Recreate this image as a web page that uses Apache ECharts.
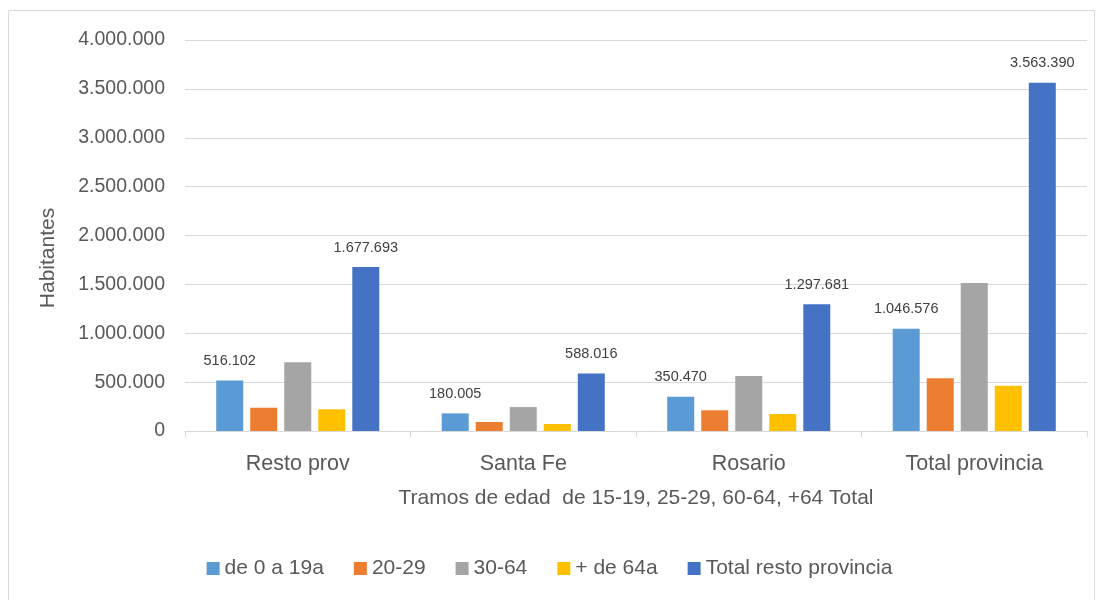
<!DOCTYPE html>
<html>
<head>
<meta charset="utf-8">
<script src="https://cdn.jsdelivr.net/npm/echarts@6/dist/echarts.min.js"></script>
<style>
  html, body { margin: 0; padding: 0; background: #fff; }
  #chart { width: 1099px; height: 600px; }
</style>
</head>
<body>
<div id="chart"></div>
<script>
const categories = ['Resto prov', 'Santa Fe', 'Rosario', 'Total provincia'];
const seriesNames = ['de 0 a 19a', '20-29', '30-64', '+ de 64a', 'Total resto provincia'];
const colors = ['#5b9bd5', '#ed7d31', '#a5a5a5', '#ffc000', '#4472c4'];

const de0a19 = [516102, 180005, 350470, 1046576];
const de20a29 = [238000, 92000, 212000, 540000];
const de30a64 = [703000, 245000, 563000, 1515000];
const mas64 = [222000, 72000, 174000, 462000];
const totalResto = [1677693, 588016, 1297681, 3563390];

const values = [de0a19, de20a29, de30a64, mas64, totalResto];
const labelled = [true, false, false, false, true];

const fmt = v => String(v).replace(/\B(?=(\d{3})+(?!\d))/g, '.');
const font = 'Liberation Sans';

const chart = echarts.init(document.getElementById('chart'));

const option = {
  animation: false,
  textStyle: { fontFamily: font },
  grid: { left: 185, right: 12, top: 40, bottom: 169 },
  legend: {
    data: seriesNames,
    top: 553,
    left: 'center',
    itemWidth: 13,
    itemHeight: 13,
    itemGap: 30,
    icon: 'rect',
    textStyle: { fontSize: 21, color: '#595959', fontFamily: font }
  },
  xAxis: {
    type: 'category',
    data: categories,
    name: 'Tramos de edad  de 15-19, 25-29, 60-64, +64 Total',
    nameLocation: 'middle',
    nameGap: 57,
    nameTextStyle: { fontSize: 21, color: '#595959' },
    axisLine: { lineStyle: { color: '#d9d9d9' } },
    axisTick: { show: true, length: 6, lineStyle: { color: '#d9d9d9' } },
    axisLabel: { fontSize: 21.5, color: '#595959', margin: 22 }
  },
  yAxis: {
    type: 'value',
    min: 0,
    max: 4000000,
    interval: 500000,
    axisLine: { show: false },
    axisTick: { show: false },
    splitLine: { lineStyle: { color: '#d9d9d9', width: 1 } },
    axisLabel: { fontSize: 19.5, color: '#595959', margin: 20, formatter: fmt }
  },
  graphic: [
    {
      type: 'rect',
      shape: { x: 8.5, y: 10.5, width: 1086, height: 600 },
      style: { fill: 'none', stroke: '#d9d9d9', lineWidth: 1 },
      silent: true
    },
    {
      type: 'text',
      x: 48,
      y: 258,
      rotation: Math.PI / 2,
      style: { text: 'Habitantes', fontSize: 21, fill: '#595959', fontFamily: font, align: 'center', verticalAlign: 'middle' }
    }
  ],
  series: seriesNames.map((name, i) => ({
    name: name,
    type: 'bar',
    data: values[i],
    barWidth: 27,
    barGap: '26%',
    itemStyle: { color: colors[i] },
    label: {
      show: labelled[i],
      position: 'top',
      distance: 12,
      fontSize: 14.5,
      color: '#404040',
      formatter: p => fmt(p.value)
    }
  }))
};

chart.setOption(option);
</script>
</body>
</html>
